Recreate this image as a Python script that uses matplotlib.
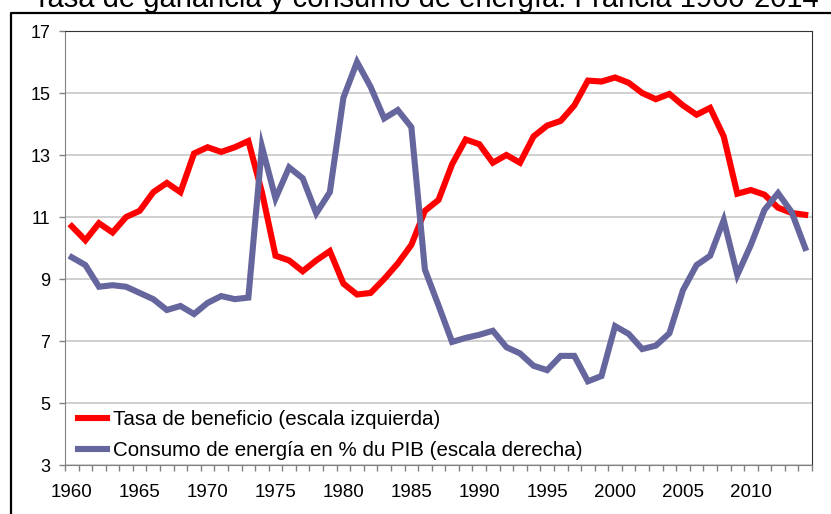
import numpy as np
import matplotlib
matplotlib.use('Agg')
import matplotlib.pyplot as plt
from matplotlib.lines import Line2D

plt.rcParams['font.family'] = ['Liberation Sans', 'DejaVu Sans']

years = list(range(1960, 2015))

# tasa de beneficio (escala izquierda)
tasa = [10.7, 10.25, 10.8, 10.5, 11.0, 11.2, 11.8, 12.1, 11.8, 13.05,
        13.25, 13.1, 13.25, 13.45, 11.8, 9.75, 9.6, 9.25, 9.6, 9.9,
        8.85, 8.5, 8.55, 9.0, 9.5, 10.1, 11.2, 11.55, 12.7, 13.5,
        13.35, 12.75, 13.0, 12.75, 13.6, 13.95, 14.1, 14.6, 15.4, 15.37,
        15.5, 15.33, 15.0, 14.8, 14.97, 14.6, 14.3, 14.52, 13.6, 11.75,
        11.87, 11.72, 11.3, 11.13, 11.07]

# consumo de energia en % du PIB (escala derecha)
energia = [9.7, 9.45, 8.75, 8.8, 8.75, 8.55, 8.35, 8.0, 8.13, 7.87,
           8.23, 8.45, 8.35, 8.4, 13.27, 11.6, 12.6, 12.25, 11.12, 11.8,
           14.85, 16.0, 15.2, 14.18, 14.45, 13.9, 9.3, 8.15, 6.97, 7.1,
           7.2, 7.33, 6.8, 6.6, 6.2, 6.06, 6.52, 6.52, 5.7, 5.87,
           7.48, 7.23, 6.74, 6.85, 7.25, 8.64, 9.45, 9.75, 10.9, 9.13,
           10.1, 11.23, 11.77, 11.16, 10.0]

W, H = 831, 514
fig = plt.figure(figsize=(W / 100, H / 100), dpi=100)
ax = fig.add_axes([65 / W, 1 - 465 / H, (812 - 65) / W, (465 - 31) / H])

x = np.arange(len(years))
red = '#FF0000'
blue = '#66669E'

l1, = ax.plot(x, tasa, color=red, lw=4.4, solid_joinstyle='miter', zorder=3)
ax2 = ax.twinx()
l2, = ax2.plot(x, energia, color=blue, lw=4.4, solid_joinstyle='miter', zorder=3)

for a in (ax, ax2):
    a.set_ylim(3, 17)
    a.set_xlim(-0.5, len(years) - 0.5)
ax2.set_yticks([])
for s in ax2.spines.values():
    s.set_visible(False)

ax.set_yticks(range(3, 18, 2))
ax.yaxis.grid(True, color='#C8C8C8', lw=1.2)
ax.set_axisbelow(True)
ax.tick_params(axis='y', direction='out', length=4.5, width=1, color='#808080',
               labelsize=13, pad=6)

lab_years = [y for y in years if y % 5 == 0]
ax.set_xticks([years.index(y) for y in lab_years])
ax.set_xticklabels([str(y) for y in lab_years])
ax.set_xticks(np.arange(-0.5, len(years)), minor=True)
ax.tick_params(axis='x', which='major', length=0, labelsize=13.5, pad=14)
ax.tick_params(axis='x', which='minor', direction='out', length=4.5, width=1,
               color='#808080')

ax.spines['left'].set_color('#808080')
ax.spines['bottom'].set_color('#808080')
ax.spines['top'].set_color('#333333')
ax.spines['right'].set_color('#333333')

leg = ax.legend([l1, l2],
                ['Tasa de beneficio (escala izquierda)',
                 'Consumo de energía en % du PIB (escala derecha)'],
                loc='center left', bbox_to_anchor=(78 / W, 1 - 435 / H),
                bbox_transform=fig.transFigure, frameon=False, fontsize=14.8,
                handlelength=1.4, handletextpad=0.3, borderpad=0,
                borderaxespad=0, labelspacing=0.6)
leg.set_zorder(5)

# outer frame
fig.add_artist(Line2D([11 / W, 11 / W, 1.01], [-0.01, 1 - 12.5 / H, 1 - 12.5 / H],
                      color='black', lw=1.6, transform=fig.transFigure))

fig.text(426 / W, 1 - 7 / H, 'Tasa de ganancia y consumo de energía. Francia 1960-2014',
         ha='center', va='baseline', fontsize=21)

fig.savefig('out.png', dpi=100)
